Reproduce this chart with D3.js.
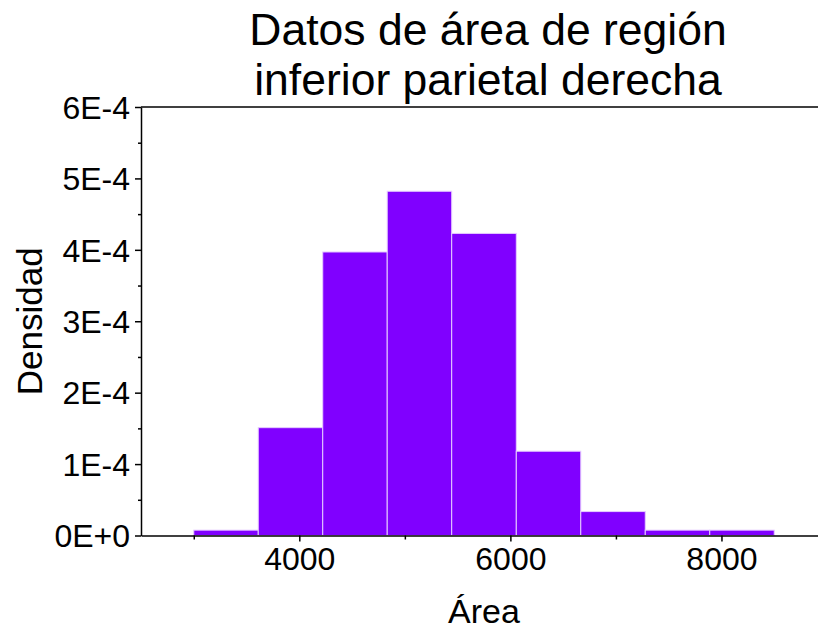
<!DOCTYPE html>
<html>
<head>
<meta charset="utf-8">
<script src="https://cdn.jsdelivr.net/npm/d3@7"></script>
<style>
  body { margin: 0; background: #fff; }
  svg { display: block; font-family: "Liberation Sans", Arial, sans-serif; }
  .axis path, .axis line { stroke: #000; stroke-width: 1.5; }
  .axis text { font-family: "Liberation Sans", Arial, sans-serif; font-size: 32px; fill: #000; }
</style>
</head>
<body>
<div id="chart"></div>
<script>
// histogram bins (area) and density per bin
const binEdges = [3000, 3611, 4222, 4833, 5444, 6056, 6667, 7278, 7889, 8500];
const densities = [0.075e-4, 1.51e-4, 3.97e-4, 4.82e-4, 4.23e-4, 1.18e-4, 0.335e-4, 0.075e-4, 0.075e-4];
const xTicks = [4000, 6000, 8000];
const xMinorTicks = [3000, 5000, 7000, 9000];
const yTicks = [0, 1e-4, 2e-4, 3e-4, 4e-4, 5e-4, 6e-4];
const yMinorTicks = [0.5e-4, 1.5e-4, 2.5e-4, 3.5e-4, 4.5e-4, 5.5e-4];
const titleLines = ["Datos de área de región", "inferior parietal derecha"];
const xLabel = "Área";
const yLabel = "Densidad";

const width = 818, height = 633;
const margin = {top: 107, right: -9, bottom: 97.5, left: 141};

const svg = d3.select("#chart").append("svg")
    .attr("width", width)
    .attr("height", height);

const x = d3.scaleLinear()
    .domain([2500, 9000])
    .range([margin.left, width - margin.right]);
const y = d3.scaleLinear()
    .domain([0, 6e-4])
    .range([height - margin.bottom, margin.top]);

const bins = densities.map((d, i) => ({x0: binEdges[i], x1: binEdges[i + 1], value: d}));

// bars
svg.append("g")
    .selectAll("rect")
    .data(bins)
    .join("rect")
    .attr("x", d => x(d.x0))
    .attr("y", d => y(d.value))
    .attr("width", d => x(d.x1) - x(d.x0))
    .attr("height", d => y(0) - y(d.value))
    .attr("fill", "#8000ff")
    .attr("stroke", "#e6ccff")
    .attr("stroke-width", 1);

const yFmt = v => v === 0 ? "0E+0" : Math.round(v * 1e4) + "E-4";

// minor ticks first
svg.append("g")
    .attr("class", "axis")
    .attr("transform", `translate(${margin.left},0)`)
    .call(d3.axisLeft(y).tickValues(yMinorTicks).tickSize(3).tickFormat(""))
    .call(g => g.select(".domain").remove());
svg.append("g")
    .attr("class", "axis")
    .attr("transform", `translate(0,${y(0)})`)
    .call(d3.axisBottom(x).tickValues(xMinorTicks).tickSize(4).tickFormat(""))
    .call(g => g.select(".domain").remove());

// y axis
svg.append("g")
    .attr("class", "axis")
    .attr("transform", `translate(${margin.left},0)`)
    .call(d3.axisLeft(y).tickValues(yTicks).tickSize(6).tickPadding(5).tickSizeOuter(0).tickFormat(yFmt))
    .call(g => g.selectAll("text").attr("dy", "0.35em"));

// x axis
svg.append("g")
    .attr("class", "axis")
    .attr("transform", `translate(0,${y(0)})`)
    .call(d3.axisBottom(x).tickValues(xTicks).tickSize(6).tickPadding(6).tickSizeOuter(0).tickFormat(d3.format("d")));

// top frame line
svg.append("line")
    .attr("x1", margin.left).attr("x2", width - margin.right)
    .attr("y1", y(6e-4)).attr("y2", y(6e-4))
    .attr("stroke", "#000").attr("stroke-width", 1.5);

// title
const cx = (x.range()[0] + x.range()[1]) / 2;
svg.append("g")
    .selectAll("text")
    .data(titleLines)
    .join("text")
    .attr("x", cx + 4)
    .attr("y", (d, i) => 45 + i * 50)
    .attr("text-anchor", "middle")
    .style("font-size", "44.5px")
    .text(d => d);

// axis labels
svg.append("text")
    .attr("x", cx)
    .attr("y", 623)
    .attr("text-anchor", "middle")
    .style("font-size", "34px")
    .text(xLabel);

svg.append("text")
    .attr("transform", `translate(42,${(y(0) + y(6e-4)) / 2}) rotate(-90)`)
    .attr("text-anchor", "middle")
    .style("font-size", "35px")
    .text(yLabel);
</script>
</body>
</html>
